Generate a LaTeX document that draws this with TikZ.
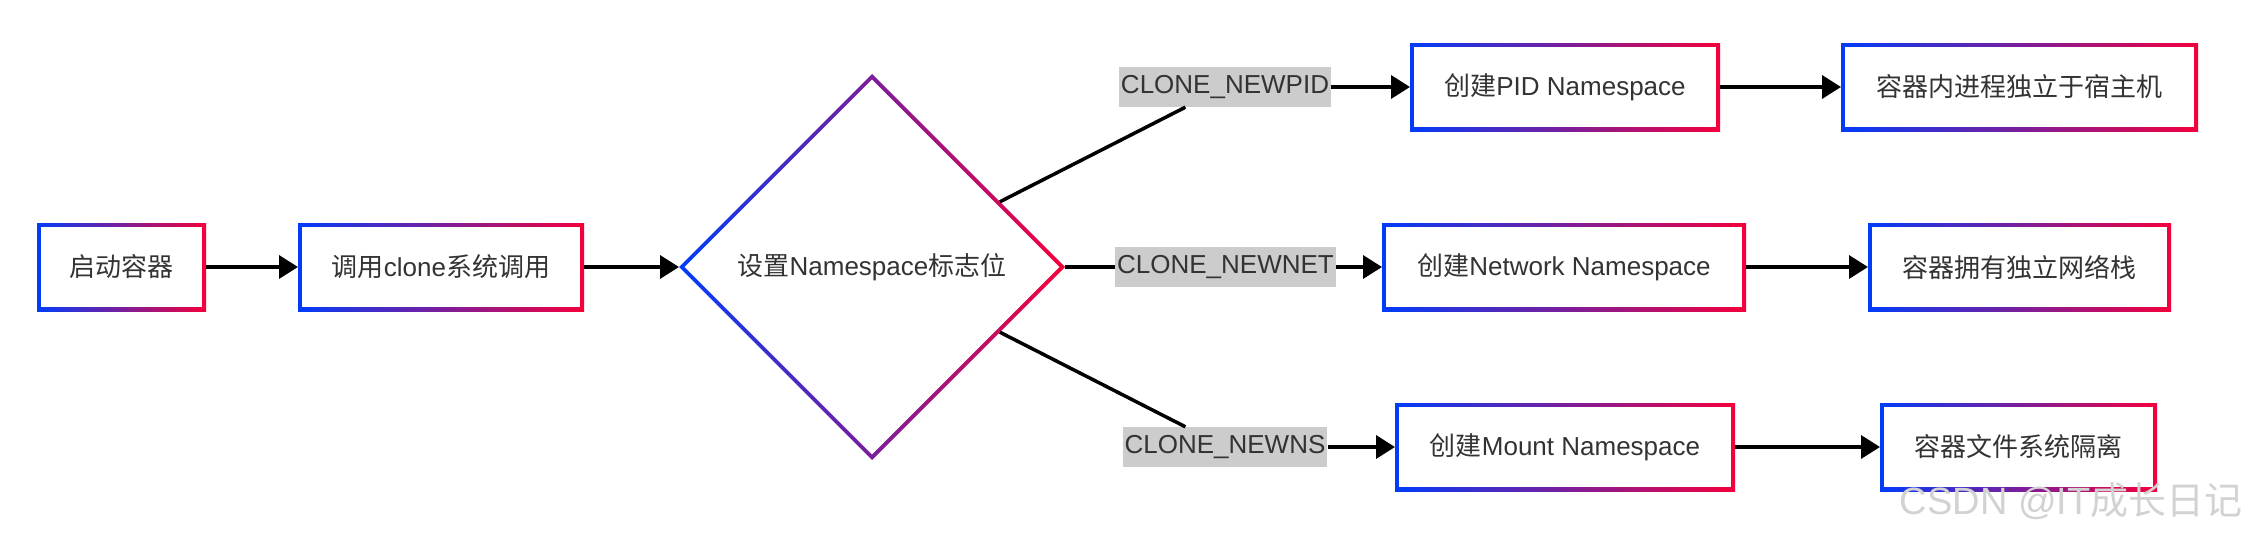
\documentclass[tikz,border=0pt]{standalone}
\usepackage{fontspec}
\setmainfont{Liberation Sans}
\newfontfamily\cjk{Noto Sans CJK SC}
\usetikzlibrary{shapes.geometric,arrows.meta,backgrounds}
\definecolor{gblue}{RGB}{0,60,250}
\definecolor{gred}{RGB}{245,0,60}
\definecolor{txt}{RGB}{51,51,51}
\definecolor{lblgray}{RGB}{204,204,204}

\begin{document}
\begin{tikzpicture}[x=1pt,y=-1pt,font=\fontsize{26}{30}\selectfont,text=txt,
  box/.style={fill=white,minimum height=80pt,inner sep=0pt,outer sep=4pt},
  flagbox/.style={diamond,aspect=1,fill=white,minimum width=378pt,minimum height=378pt,inner sep=0pt,outer sep=4pt},
  lbl/.style={fill=lblgray,minimum height=40pt,inner xsep=2pt,inner ysep=0pt},
  arr/.style={line width=3.5pt,-{Triangle[length=19pt,width=23pt]}},
  link/.style={line width=3.5pt}]
\useasboundingbox (0,0) rectangle (2242,538);
% left part
\node[box,minimum width=161pt] (start) at (121.5,267) {{\cjk 启动容器}};
\node[box,minimum width=278pt] (clone) at (441,267) {{\cjk 调用}clone{\cjk 系统调用}};
\node[flagbox] (flag) at (872,267) {{\cjk 设置}Namespace{\cjk 标志位}};
% the three branches
\node[lbl] (lpid) at (1225,87) {CLONE\_NEWPID};
\node[box,minimum width=302pt] (pid) at (1565,87) {{\cjk 创建}PID Namespace};
\node[box,minimum width=349pt] (hostpid) at (2019.5,87) {{\cjk 容器内进程独立于宿主机}};
\node[lbl] (lnet) at (1225.5,267) {CLONE\_NEWNET};
\node[box,minimum width=356pt] (net) at (1564,267) {{\cjk 创建}Network Namespace};
\node[box,minimum width=295pt] (stack) at (2019.5,267) {{\cjk 容器拥有独立网络栈}};
\node[lbl] (lns) at (1225,447) {CLONE\_NEWNS};
\node[box,minimum width=332pt] (mnt) at (1565,447) {{\cjk 创建}Mount Namespace};
\node[box,minimum width=269pt] (fs) at (2018.5,447) {{\cjk 容器文件系统隔离}};
% gradient frames
\begin{scope}[on background layer]
\foreach \n in {start,clone,pid,hostpid,net,stack,mnt,fs}{\shade[left color=gblue,right color=gred] (\n.south west) rectangle (\n.north east);}
\shade[left color=gblue,right color=gred] (flag.north)--(flag.east)--(flag.south)--(flag.west)--cycle;
\end{scope}
\draw[arr] (start) -- (clone);
\draw[arr] (clone) -- (flag);
\foreach \l/\a/\b in {lpid/pid/hostpid,lnet/net/stack,lns/mnt/fs}{
  \draw[link] (flag) -- (\l);
  \draw[arr] (\l) -- (\a);
  \draw[arr] (\a) -- (\b);}
\node[anchor=east,text=gray!35,font=\fontsize{38}{40}\selectfont] (mark) at (2246,501) {CSDN @IT{\cjk 成长日记}};
\end{tikzpicture}
\end{document}
